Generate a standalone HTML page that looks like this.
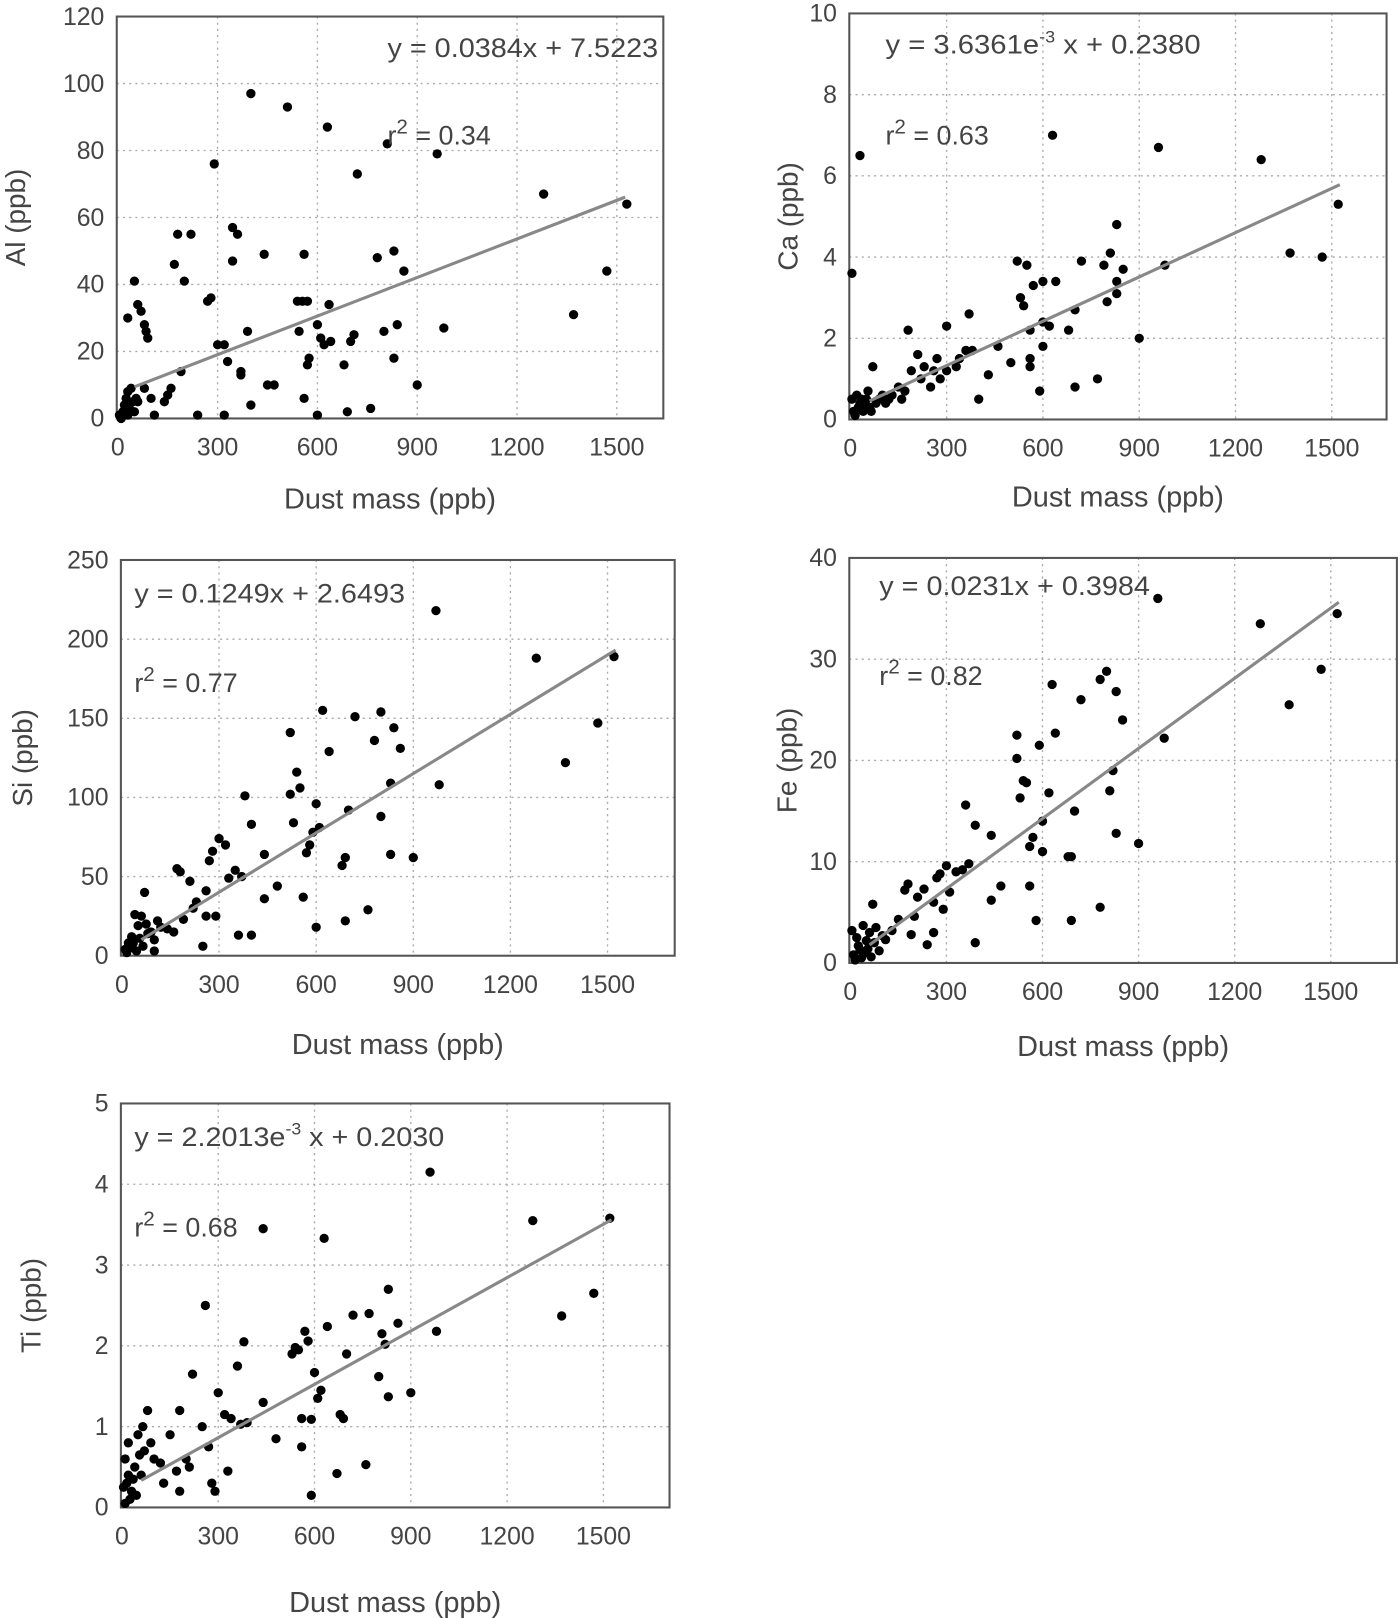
<!DOCTYPE html>
<html><head><meta charset="utf-8"><style>
html,body{margin:0;padding:0;background:#fff}
svg{display:block}
text{font-family:"Liberation Sans",Arial,sans-serif;fill:#444}
</style></head><body>
<svg id="fig" width="1400" height="1618" viewBox="0 0 1355 1566" xmlns="http://www.w3.org/2000/svg"></svg>
<script>
const NS="http://www.w3.org/2000/svg";
const xTicks=[0,300,600,900,1200,1500];
const alX=[30,50,60,70,80,85,90,170,180,200,220,270,280,290,300,320,330,345,345,360,370,370,390,400,400,440,450,470,510,540,545,555,560,570,575,570,560,600,600,610,620,630,635,640,680,690,700,710,720,760,780,800,810,830,830,840,860,900,960,980,1280,1370,1470,1530,110,240,320,190,140,150,160,100,60,80,10,15,20,25,30,35,40,45,50,55,5,20,30];
const alY=[30,41,34,32,28,26,24,46,55,41,55,35,36,76,22,22,17,57,47,55,14,13,26,97,4,49,10,10,93,35,26,35,49,16,18,35,6,28,1,24,22,87,34,23,16,2,23,25,73,3,48,26,82,50,18,28,44,10,79,27,67,31,44,64,1,1,1,14,5,7,9,6,5,9,0,2,4,6,8,3,9,5,2,6,1,1,1];
const caX=[30,5,630,960,1280,1520,1370,1470,980,900,830,830,810,790,850,800,830,770,700,720,700,680,640,600,600,620,590,600,570,550,520,530,540,560,560,560,500,460,430,400,380,370,360,340,330,300,300,280,270,260,250,230,220,210,190,180,170,160,150,130,120,110,100,90,80,70,60,50,40,30,20,10,15,25,35,45,5,55,65];
const caY=[6.5,3.6,7,6.7,6.4,5.3,4.1,4.0,3.8,2.0,4.8,3.4,4.1,3.8,3.7,2.9,3.1,1.0,0.8,3.9,2.7,2.2,3.4,3.4,2.4,2.3,0.7,1.8,3.3,3.8,3.9,3.0,2.8,2.2,1.5,1.3,1.4,1.8,1.1,0.5,1.7,2.6,1.7,1.5,1.3,2.3,1.2,1.0,1.5,1.2,0.8,1.3,1.0,1.6,1.2,2.2,0.7,0.5,0.8,0.6,0.5,0.4,0.6,0.5,0.4,1.3,0.3,0.5,0.2,0.4,0.6,0.2,0.1,0.3,0.5,0.3,0.5,0.7,0.2];
const siX=[970,1280,1520,1470,1370,980,900,830,830,860,800,840,780,720,800,760,690,680,690,700,620,640,600,610,590,580,570,560,600,540,550,520,520,530,480,440,440,400,380,400,360,370,350,330,320,300,290,280,270,260,260,250,230,220,210,190,180,170,160,140,120,110,100,80,70,60,50,40,30,20,10,15,25,35,45,55,65,75,90,100];
const siY=[218,188,189,147,122,108,62,64,109,131,154,144,136,151,88,29,22,57,62,92,155,129,96,81,78,70,65,37,18,116,106,141,102,84,44,36,64,83,101,13,13,50,54,49,70,74,25,66,60,41,25,6,34,30,47,23,53,55,15,17,18,22,10,14,40,25,19,26,12,8,4,2,5,8,3,11,6,20,15,3];
const feX=[960,1280,1520,1470,1370,980,900,830,820,850,830,800,780,780,810,720,700,690,680,690,630,640,620,600,600,580,590,570,560,560,540,550,520,520,530,470,440,440,390,360,390,370,350,330,310,300,290,280,270,260,260,240,230,210,200,190,180,170,150,130,110,100,80,70,60,50,40,30,20,10,15,25,35,45,55,65,75,90,5];
const feY=[36,33.5,34.5,29,25.5,22.2,11.8,12.8,19,24,26.8,28.8,28,5.5,17,26,15,10.5,10.5,4.2,27.5,22.7,16.8,14,11,4.2,21.5,12.4,11.5,7.6,18,17.8,22.5,20.2,16.3,7.6,6.2,12.6,13.6,15.6,2,9.8,9.2,9,7,9.6,5.3,8.8,8.4,6,3,1.8,7.3,6.5,4.6,2.8,7.8,7.2,4.3,3.2,2.3,2.7,3.5,5.8,3,2.2,3.7,1.3,2.5,0.8,0.3,1.7,0.5,1.0,1.4,0.6,2,1.2,3.2];
const tiX=[960,1280,1520,1470,1370,980,900,830,830,860,820,810,800,770,760,720,700,690,670,680,630,640,620,610,600,580,590,570,560,550,540,530,560,590,480,440,440,390,380,370,360,340,330,320,300,290,280,270,260,250,220,210,200,180,180,170,150,130,120,100,90,80,70,60,50,40,30,20,10,15,25,35,45,55,65,5,10,20];
const tiY=[4.15,3.55,3.58,2.65,2.37,2.18,1.42,1.37,2.7,2.28,2.02,2.15,1.62,2.4,0.53,2.38,1.9,1.1,0.42,1.15,3.33,2.24,1.45,1.35,1.67,2.06,1.09,2.18,0.75,1.95,1.98,1.9,1.1,0.15,0.85,1.3,3.45,1.05,2.05,1.03,1.75,1.1,0.45,1.15,1.42,0.2,0.3,0.75,2.5,1.0,1.65,0.5,0.6,0.2,1.2,0.45,0.9,0.3,0.55,0.6,0.8,1.2,0.7,0.4,0.9,0.5,0.2,0.8,0.6,0.3,0.1,0.35,0.15,0.65,1.0,0.25,0.05,0.4];
const alFit=[0.0384,7.5223], caFit=[0.0036361,0.2380], siFit=[0.1249,2.6493], feFit=[0.0231,0.3984], tiFit=[0.0022013,0.2030];
const alTicks=[0,20,40,60,80,100,120], caTicks=[0,2,4,6,8,10], siTicks=[0,50,100,150,200,250], feTicks=[0,10,20,30,40], tiTicks=[0,1,2,3,4,5];

const svg=document.getElementById('fig');
function mk(tag,attrs,parent){const e=document.createElementNS(NS,tag);for(const k in attrs)e.setAttribute(k,attrs[k]);(parent||svg).appendChild(e);return e;}
function txt(s,attrs,parent){const e=mk('text',attrs,parent);e.textContent=s;return e;}

const panels=[
 {id:'al',el:'Al',X:alX,Y:alY,fit:alFit,yT:alTicks,L:113,T:16,R:642,B:405,x15:597,ymax:120,ytx:15,xlb:492,eq:{x:637,y:55,anchor:'end',w:262},r2:{x:375,y:140},eqs:['y = 0.0384x + 7.5223'],fx:[50,1525]},
 {id:'ca',el:'Ca',X:caX,Y:caY,fit:caFit,yT:caTicks,L:822,T:13,R:1342,B:406,x15:1289,ymax:10,ytx:763,xlb:490,eq:{x:857,y:52,anchor:'start',w:305},r2:{x:857,y:140},exp:true,base:'3.6361e',rest:' x + 0.2380',fx:[60,1525]},
 {id:'si',el:'Si',X:siX,Y:siY,fit:siFit,yT:siTicks,L:117,T:542,R:653,B:925,x15:588,ymax:250,ytx:22,xlb:1020,eq:{x:130,y:583,anchor:'start',w:262},r2:{x:130,y:670},eqs:['y = 0.1249x + 2.6493'],fx:[60,1525]},
 {id:'fe',el:'Fe',X:feX,Y:feY,fit:feFit,yT:feTicks,L:822,T:540,R:1352,B:932,x15:1288,ymax:40,ytx:762,xlb:1022,eq:{x:851,y:576,anchor:'start',w:262},r2:{x:851,y:663},eqs:['y = 0.0231x + 0.3984'],fx:[60,1525]},
 {id:'ti',el:'Ti',X:tiX,Y:tiY,fit:tiFit,yT:tiTicks,L:117,T:1068,R:648,B:1459,x15:584,ymax:5,ytx:30,xlb:1560,eq:{x:130,y:1109,anchor:'start',w:300},r2:{x:130,y:1197},exp:true,base:'2.2013e',rest:' x + 0.2030',fx:[60,1525]}
];
const r2vals={al:'0.34',ca:'0.63',si:'0.77',fe:'0.82',ti:'0.68'};

panels.forEach(p=>{
  const g=mk('g',{});
  
  
  const x0=p.L+1;
  const sx=v=>x0+(p.x15-x0)*v/1500;
  const sy=v=>p.B-(p.B-p.T)*v/p.ymax;
  xTicks.forEach(t=>{ if(t>0){const l=mk('line',{x1:sx(t),x2:sx(t),y1:p.T,y2:p.B,stroke:'#aaa','stroke-width':1.3,'stroke-dasharray':'2,4'},g);
    }
    const tl=txt(String(t),{x:sx(t),y:p.B+36,'text-anchor':'middle','font-size':24},g);
    
  });
  p.yT.forEach(t=>{ if(t>0&&t<p.ymax){const l=mk('line',{x1:p.L,x2:p.R,y1:sy(t),y2:sy(t),stroke:'#aaa','stroke-width':1.3,'stroke-dasharray':'2,4'},g);
    }
    const tl=txt(String(t),{x:p.L-12,y:sy(t)+8,'text-anchor':'end','font-size':24},g);
    
  });
  const fr=mk('rect',{x:p.L,y:p.T,width:p.R-p.L,height:p.B-p.T,fill:'none',stroke:'#555','stroke-width':2},g);
  
  p.X.forEach((xv,i)=>{const c=mk('circle',{cx:sx(xv),cy:sy(p.Y[i]),r:4.5,fill:'#000'},g);
    });
  const fl=mk('line',{x1:sx(p.fx[0]),y1:sy(p.fit[0]*p.fx[0]+p.fit[1]),x2:sx(p.fx[1]),y2:sy(p.fit[0]*p.fx[1]+p.fit[1]),stroke:'#888','stroke-width':3},g);
  
  let eq;
  const eqAttrs={x:p.eq.x,y:p.eq.y,'font-size':26,'text-anchor':p.eq.anchor,textLength:p.eq.w,lengthAdjust:'spacingAndGlyphs'};
  if(p.exp){
    eq=mk('text',eqAttrs,g);
    const a=mk('tspan',{},eq);a.textContent='y = '+p.base;
    const b=mk('tspan',{dy:-11,'font-size':16},eq);b.textContent='-3';
    const c=mk('tspan',{dy:11},eq);c.textContent=p.rest;
  } else {
    eq=txt(p.eqs[0],eqAttrs,g);
  }
  
  const r2=mk('text',{x:p.r2.x,y:p.r2.y,'font-size':26},g);
  const r1=mk('tspan',{},r2);r1.textContent='r';
  const r2s=mk('tspan',{dy:-11,'font-size':20},r2);r2s.textContent='2';
  const r3=mk('tspan',{dy:11},r2);r3.textContent=' = '+r2vals[p.id];
  
  const xt=txt('Dust mass (ppb)',{x:(p.L+p.R)/2,y:p.xlb,'text-anchor':'middle','font-size':28},g);
  
  const cy=(p.T+p.B)/2;
  const yt=txt(p.el+' (ppb)',{x:p.ytx+9,y:cy,'text-anchor':'middle','font-size':27,transform:`rotate(-90 ${p.ytx+9} ${cy})`},g);
  
});
</script>
</body></html>
